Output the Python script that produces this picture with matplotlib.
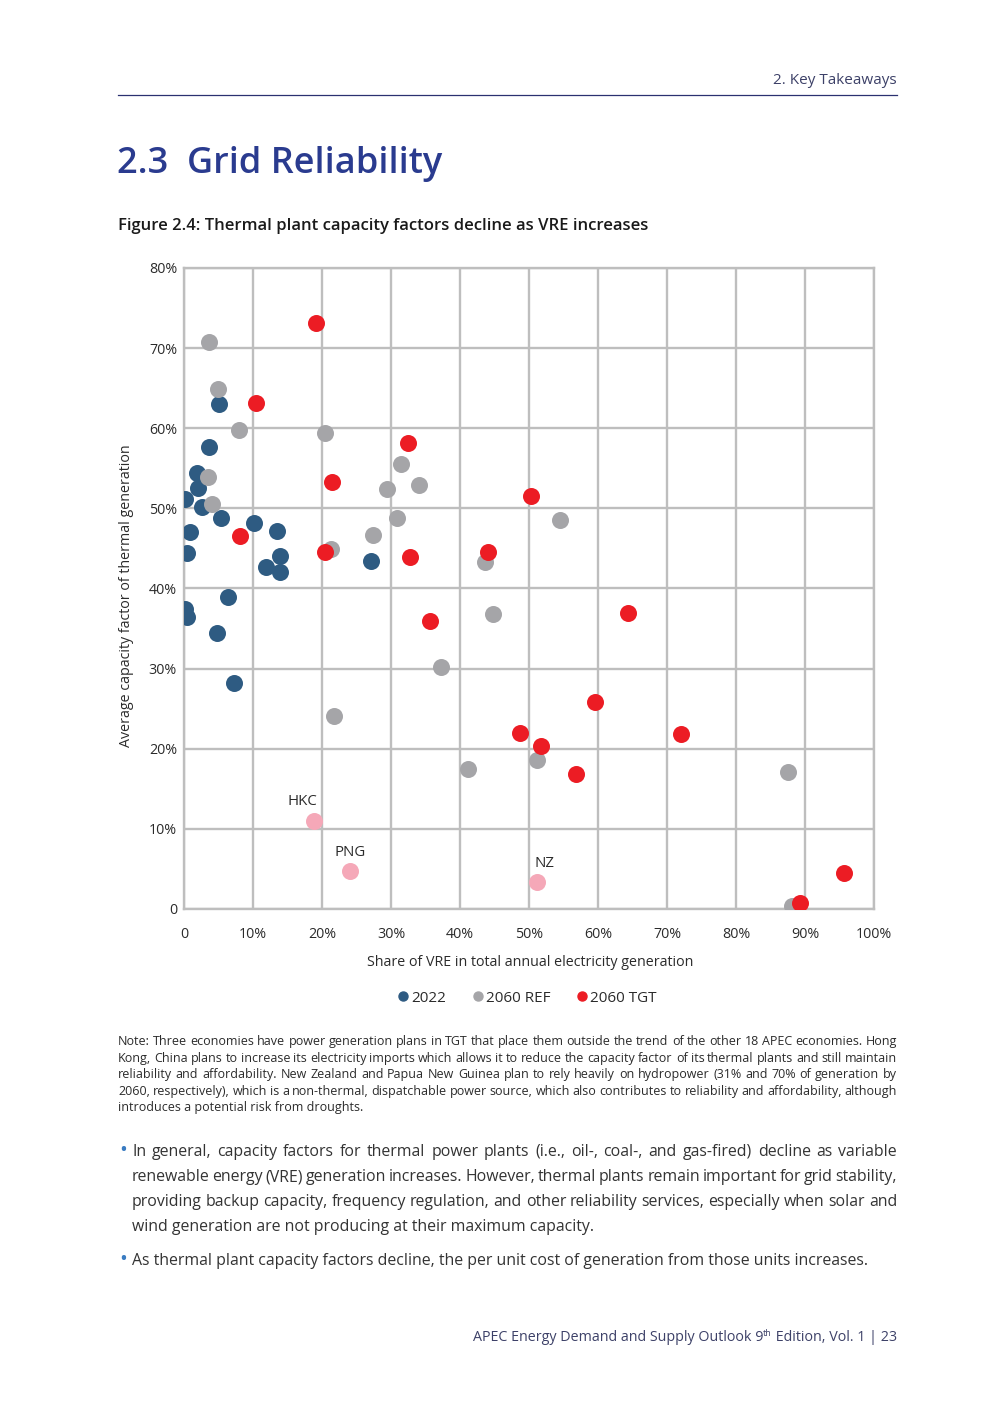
import matplotlib
matplotlib.use("Agg")
import matplotlib.pyplot as plt
from matplotlib.lines import Line2D

plt.rcParams['font.family'] = ['Open Sans', 'DejaVu Sans']

# ---------------- data ----------------
vre_2022 = [0.1, 0.9, 0.4, 0.1, 0.4, 1.9, 2.0, 2.6, 3.6, 5.1, 5.4, 4.8, 6.4, 7.2,
            10.1, 11.9, 13.5, 13.9, 13.9, 27.1]
cf_2022 = [51.2, 47.1, 44.4, 37.4, 36.4, 54.4, 52.5, 50.2, 57.7, 63.0, 48.8, 34.4, 38.9, 28.2,
           48.2, 42.7, 47.2, 44.1, 42.1, 43.4]

vre_ref = [3.6, 4.9, 8.0, 3.5, 4.1, 20.4, 31.4, 29.4, 34.1, 30.8, 27.4, 21.3, 21.7,
           43.6, 54.5, 44.8, 37.3, 51.1, 41.2, 87.6, 88.1]
cf_ref = [70.8, 64.9, 59.8, 53.9, 50.5, 59.4, 55.6, 52.4, 52.9, 48.8, 46.7, 44.9, 24.1,
          43.3, 48.5, 36.8, 30.2, 18.6, 17.5, 17.1, 0.4]

vre_tgt = [19.2, 10.5, 8.1, 32.5, 21.5, 20.4, 32.8, 50.3, 44.0, 35.6, 64.3, 59.5,
           48.7, 72.1, 51.8, 56.8, 95.6, 89.3]
cf_tgt = [73.1, 63.2, 46.6, 58.1, 53.3, 44.6, 43.9, 51.5, 44.5, 36.0, 37.0, 25.8,
          22.0, 21.9, 20.3, 16.8, 4.5, 0.7]

outlier_names = ["HKC", "PNG", "NZ"]
vre_out = [18.8, 24.1, 51.2]
cf_out = [11.0, 4.7, 3.4]

x_ticks = [0, 10, 20, 30, 40, 50, 60, 70, 80, 90, 100]
x_tick_labels = ["0", "10%", "20%", "30%", "40%", "50%", "60%", "70%", "80%", "90%", "100%"]
y_ticks = [0, 10, 20, 30, 40, 50, 60, 70, 80]
y_tick_labels = ["0", "10%", "20%", "30%", "40%", "50%", "60%", "70%", "80%"]
series_names = ["2022", "2060 REF", "2060 TGT"]

note_lines = [
    "Note: Three economies have power generation plans in TGT that place them outside the trend of the other 18 APEC economies. Hong",
    "Kong, China plans to increase its electricity imports which allows it to reduce the capacity factor of its thermal plants and still maintain",
    "reliability and affordability. New Zealand and Papua New Guinea plan to rely heavily on hydropower (31% and 70% of generation by",
    "2060, respectively), which is a non-thermal, dispatchable power source, which also contributes to reliability and affordability, although",
    "introduces a potential risk from droughts.",
]
bullet1_lines = [
    "In general, capacity factors for thermal power plants (i.e., oil-, coal-, and gas-fired) decline as variable",
    "renewable energy (VRE) generation increases. However, thermal plants remain important for grid stability,",
    "providing backup capacity, frequency regulation, and other reliability services, especially when solar and",
    "wind generation are not producing at their maximum capacity.",
]
bullet2_lines = [
    "As thermal plant capacity factors decline, the per unit cost of generation from those units increases.",
]

# ---------------- style ----------------
W, H = 992, 1403
C_BLUE = "#2e5b82"
C_GREY = "#a5a5a8"
C_RED = "#ec1c24"
C_PINK = "#f5a8b8"
C_GRID = "#bebebe"
C_NAVY = "#2b3170"
C_TITLE = "#2a3b8f"
C_TEXT = "#2b2b2b"

fig = plt.figure(figsize=(W / 100, H / 100), dpi=100)
renderer = fig.canvas.get_renderer()


def fx(x):
    return x / W


def fy(y):
    return 1 - y / H


# header
fig.text(fx(897), fy(84), "2. Key Takeaways", ha="right", va="baseline",
         fontsize=11, color="#3d4168")
fig.add_artist(Line2D([fx(118), fx(897)], [fy(94.5), fy(94.5)], color=C_NAVY, lw=0.9))

# titles
fig.text(fx(117), fy(173), "2.3  Grid Reliability", ha="left", va="baseline",
         fontsize=26, fontweight="semibold", color=C_TITLE)
fig.text(fx(118), fy(230), "Figure 2.4: Thermal plant capacity factors decline as VRE increases",
         ha="left", va="baseline", fontsize=12, fontweight="semibold", color="#1a1a1a")

# ---------------- chart ----------------
ax = fig.add_axes([fx(184), fy(909), (874 - 184) / W, (909 - 268) / H])
ax.set_xlim(0, 100)
ax.set_ylim(0, 80)
ax.set_xticks(x_ticks)
ax.set_xticklabels(x_tick_labels)
ax.set_yticks(y_ticks)
ax.set_yticklabels(y_tick_labels)
ax.tick_params(axis="both", length=0, labelsize=10.3, colors=C_TEXT)
ax.tick_params(axis="x", pad=13)
ax.tick_params(axis="y", pad=5)
ax.grid(True, color=C_GRID, lw=1.7, zorder=0)
ax.set_axisbelow(True)
for sp in ax.spines.values():
    sp.set_color(C_GRID)
    sp.set_linewidth(1.7)

ms = 150
ax.scatter(vre_2022, cf_2022, s=ms, color=C_BLUE, zorder=3, linewidths=0, label=series_names[0])
ax.scatter(vre_ref, cf_ref, s=ms, color=C_GREY, zorder=3, linewidths=0, label=series_names[1])
ax.scatter(vre_tgt, cf_tgt, s=ms, color=C_RED, zorder=4, linewidths=0, label=series_names[2])
ax.scatter(vre_out, cf_out, s=ms, color=C_PINK, zorder=4, linewidths=0)

offsets = [(-8, 8.5), (0, 8.5), (5, 8)]
for name, x, y, (dx, dy) in zip(outlier_names, vre_out, cf_out, offsets):
    ax.annotate(name, (x, y), xytext=(dx, dy), textcoords="offset points",
                ha="center", va="bottom", fontsize=10.8, color=C_TEXT)

fig.text(fx(126), fy(596), "Average capacity factor of thermal generation", rotation=90,
         ha="center", va="center", fontsize=10.3, color=C_TEXT)
fig.text(fx(530), fy(962), "Share of VRE in total annual electricity generation",
         ha="center", va="center", fontsize=10.3, color=C_TEXT)

handles = [Line2D([], [], marker="o", ls="", color=c, markersize=6.5)
           for c in (C_BLUE, C_GREY, C_RED)]
fig.legend(handles, series_names, loc="center", bbox_to_anchor=(fx(526), fy(998)),
           ncol=3, frameon=False, fontsize=11, handletextpad=0.0, columnspacing=1.6,
           handlelength=1.0, labelcolor=C_TEXT)


# ---------------- text blocks ----------------
def justify(lines, x0, x1, y0, dy, size, color, last_left=True):
    for i, line in enumerate(lines):
        y = fy(y0 + i * dy)
        words = line.split(" ")
        if last_left and i == len(lines) - 1:
            fig.text(fx(x0), y, line, ha="left", va="baseline", fontsize=size, color=color)
            continue
        s = size
        while True:
            arts = [fig.text(0, y, w, ha="left", va="baseline", fontsize=s, color=color)
                    for w in words]
            widths = [a.get_window_extent(renderer).width for a in arts]
            gap = ((x1 - x0) - sum(widths)) / max(len(words) - 1, 1)
            if gap >= s * 0.22 or s < size * 0.85:
                break
            for a in arts:
                a.remove()
            s -= 0.1
        cur = x0
        for a, wd in zip(arts, widths):
            a.set_x(fx(cur))
            cur += wd + gap


justify(note_lines, 118, 897, 1045, 16.6, 9.0, C_TEXT)
justify(bullet1_lines, 132, 897, 1156, 25.0, 11.4, "#333333")
justify(bullet2_lines, 132, 897, 1265, 25.0, 11.4, "#333333")
fig.text(fx(119), fy(1156), "\u2022", ha="left", va="baseline", fontsize=15, color="#3a7cc2")
fig.text(fx(119), fy(1265), "\u2022", ha="left", va="baseline", fontsize=15, color="#3a7cc2")

# footer with superscript
t3 = fig.text(fx(897), fy(1341), " Edition, Vol. 1 | 23", ha="right", va="baseline",
              fontsize=10.3, color="#3d4168")
w3 = t3.get_window_extent(renderer).width
t2 = fig.text(0, fy(1336), "th", fontsize=6.5, color="#3d4168", va="baseline")
w2 = t2.get_window_extent(renderer).width
t2.set_x(fx(897 - w3 - w2))
fig.text(fx(897 - w3 - w2), fy(1341), "APEC Energy Demand and Supply Outlook 9",
         ha="right", va="baseline", fontsize=10.3, color="#3d4168")

fig.savefig("out.png", dpi=100)
